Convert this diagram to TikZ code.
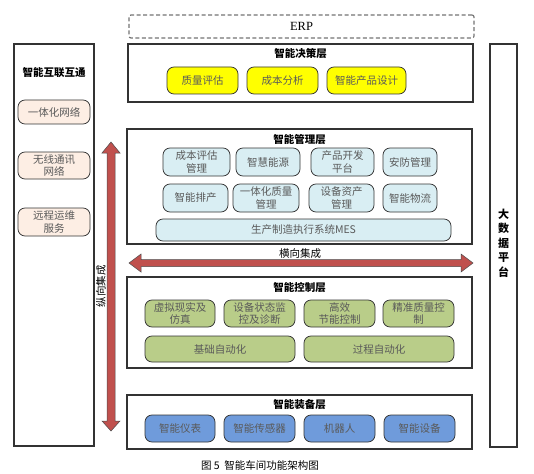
\documentclass[tikz,border=0pt]{standalone}
\usepackage{fontspec}
\setmainfont{Noto Sans CJK SC}
\newfontfamily\erpfont{Liberation Serif}
\usetikzlibrary{calc}
\definecolor{ylw}{HTML}{FFFF00}
\definecolor{lblue}{HTML}{D9EEF3}
\definecolor{lgreen}{HTML}{B9CD89}
\definecolor{mblue}{HTML}{6F9BDB}
\definecolor{peach}{HTML}{FDEEE4}
\definecolor{redarr}{HTML}{C0504D}
\definecolor{boxtext}{HTML}{5A5A5A}
\tikzset{
  layer/.style={draw=black!80, line width=1.1pt, fill=white, inner sep=0pt},
  item/.style={draw=black!80, line width=0.75pt, rounded corners=7pt, inner sep=0pt,
    align=center, text=boxtext, font=\fontsize{10.5}{12.5}\selectfont},
  yitem/.style={item, fill=ylw},
  bitem/.style={item, fill=lblue},
  gitem/.style={item, fill=lgreen},
  mitem/.style={item, fill=mblue},
  pitem/.style={item, fill=peach},
  title/.style={font=\fontsize{10.5}{12}\selectfont\bfseries, inner sep=0pt},
  bigarrow/.style={draw=black!70, line width=0.5pt, fill=redarr},
  lab/.style={font=\fontsize{10.5}{12}\selectfont, inner sep=0pt}
}
\newcommand\mybox[7]{\node[#1, minimum width={(#5-#3)*1pt}, minimum height={(#6-#4)*1pt}] (#2) at ({(#3+#5)/2},{(#4+#6)/2}) {#7};}
\begin{document}
\begin{tikzpicture}[x=1pt,y=-1pt]
\useasboundingbox (0,0) rectangle (534,473);
% ERP
\node[draw=black!55, dash pattern=on 4pt off 2.5pt, line width=1.2pt, rounded corners=2pt, minimum width=345pt, minimum height=23pt, inner sep=0pt, font=\erpfont\fontsize{12.5}{14}\selectfont] (erp) at (301.5,26.5) {ERP};
% left column
\mybox{layer}{left}{14}{44}{94}{446}{}
\node[title] (lefttitle) at (54,73) {智能互联互通};
\mybox{pitem}{l1}{18}{100}{90}{124}{一体化网络}
\mybox{pitem}{l2}{18}{152}{90}{179}{无线通讯\\网络}
\mybox{pitem}{l3}{18}{208}{90}{236}{远程运维\\服务}
% right column
\mybox{layer}{right}{490}{44}{517}{447}{}
\node[title, align=center, font=\fontsize{11}{14.5}\selectfont\bfseries] (righttitle) at (503.5,243) {大\\数\\据\\平\\台};
% decision layer
\mybox{layer}{dec}{128}{44}{473}{102}{}
\node[title] (dectitle) at (300.5,54) {智能决策层};
\mybox{yitem}{d1}{167}{67}{238}{94}{质量评估}
\mybox{yitem}{d2}{247}{67}{318}{94}{成本分析}
\mybox{yitem}{d3}{327}{67}{406}{94}{智能产品设计}
% management layer
\mybox{layer}{mgt}{127}{129}{472}{244}{}
\node[title] (mgttitle) at (299.5,140) {智能管理层};
\mybox{bitem}{m1}{163}{148}{230}{176}{成本评估\\管理}
\mybox{bitem}{m2}{236}{148}{300}{176}{智慧能源}
\mybox{bitem}{m3}{311}{148}{374}{176}{产品开发\\平台}
\mybox{bitem}{m4}{383}{148}{437}{176}{安防管理}
\mybox{bitem}{m5}{163}{184}{228}{212}{智能排产}
\mybox{bitem}{m6}{233}{184}{299}{212}{一体化质量\\管理}
\mybox{bitem}{m7}{309}{184}{374}{212}{设备资产\\管理}
\mybox{bitem}{m8}{383}{184}{437}{212}{智能物流}
\mybox{bitem}{mes}{156}{219}{451}{241}{生产制造执行系统MES}
% horizontal integration arrow
\draw[bigarrow] (129,263) -- (141,254) -- (141,259.5) -- (461,259.5) -- (461,254) -- (473,263) -- (461,272) -- (461,266.5) -- (141,266.5) -- (141,272) -- cycle;
\node[lab] (hlab) at (300,254) {横向集成};
% vertical integration arrow
\draw[bigarrow] (111,142) -- (120,153) -- (115,153) -- (115,421) -- (120,421) -- (111,431) -- (102,421) -- (107,421) -- (107,153) -- (102,153) -- cycle;
\node[lab, rotate=90] (vlab) at (101,286) {纵向集成};
% control layer
\mybox{layer}{ctl}{127}{277}{472}{368}{}
\node[title] (ctltitle) at (299.5,288) {智能控制层};
\mybox{gitem}{c1}{145}{300}{215}{327}{虚拟现实及\\仿真}
\mybox{gitem}{c2}{224}{300}{295}{327}{设备状态监\\控及诊断}
\mybox{gitem}{c3}{304}{300}{375}{327}{高效\\节能控制}
\mybox{gitem}{c4}{383}{300}{454}{327}{精准质量控\\制}
\mybox{gitem}{c5}{145}{336}{295}{362}{基础自动化}
\mybox{gitem}{c6}{304}{336}{454}{362}{过程自动化}
% equipment layer
\mybox{layer}{eqp}{127}{395}{472}{449}{}
\node[title] (eqptitle) at (299.5,404.5) {智能装备层};
\mybox{mitem}{e1}{145}{415}{215}{442}{智能仪表}
\mybox{mitem}{e2}{224}{415}{295}{442}{智能传感器}
\mybox{mitem}{e3}{304}{415}{375}{442}{机器人}
\mybox{mitem}{e4}{384}{415}{455}{442}{智能设备}
% caption
\node[lab] (caption) at (260,465) {图 5\ \ 智能车间功能架构图};
\end{tikzpicture}
\end{document}
